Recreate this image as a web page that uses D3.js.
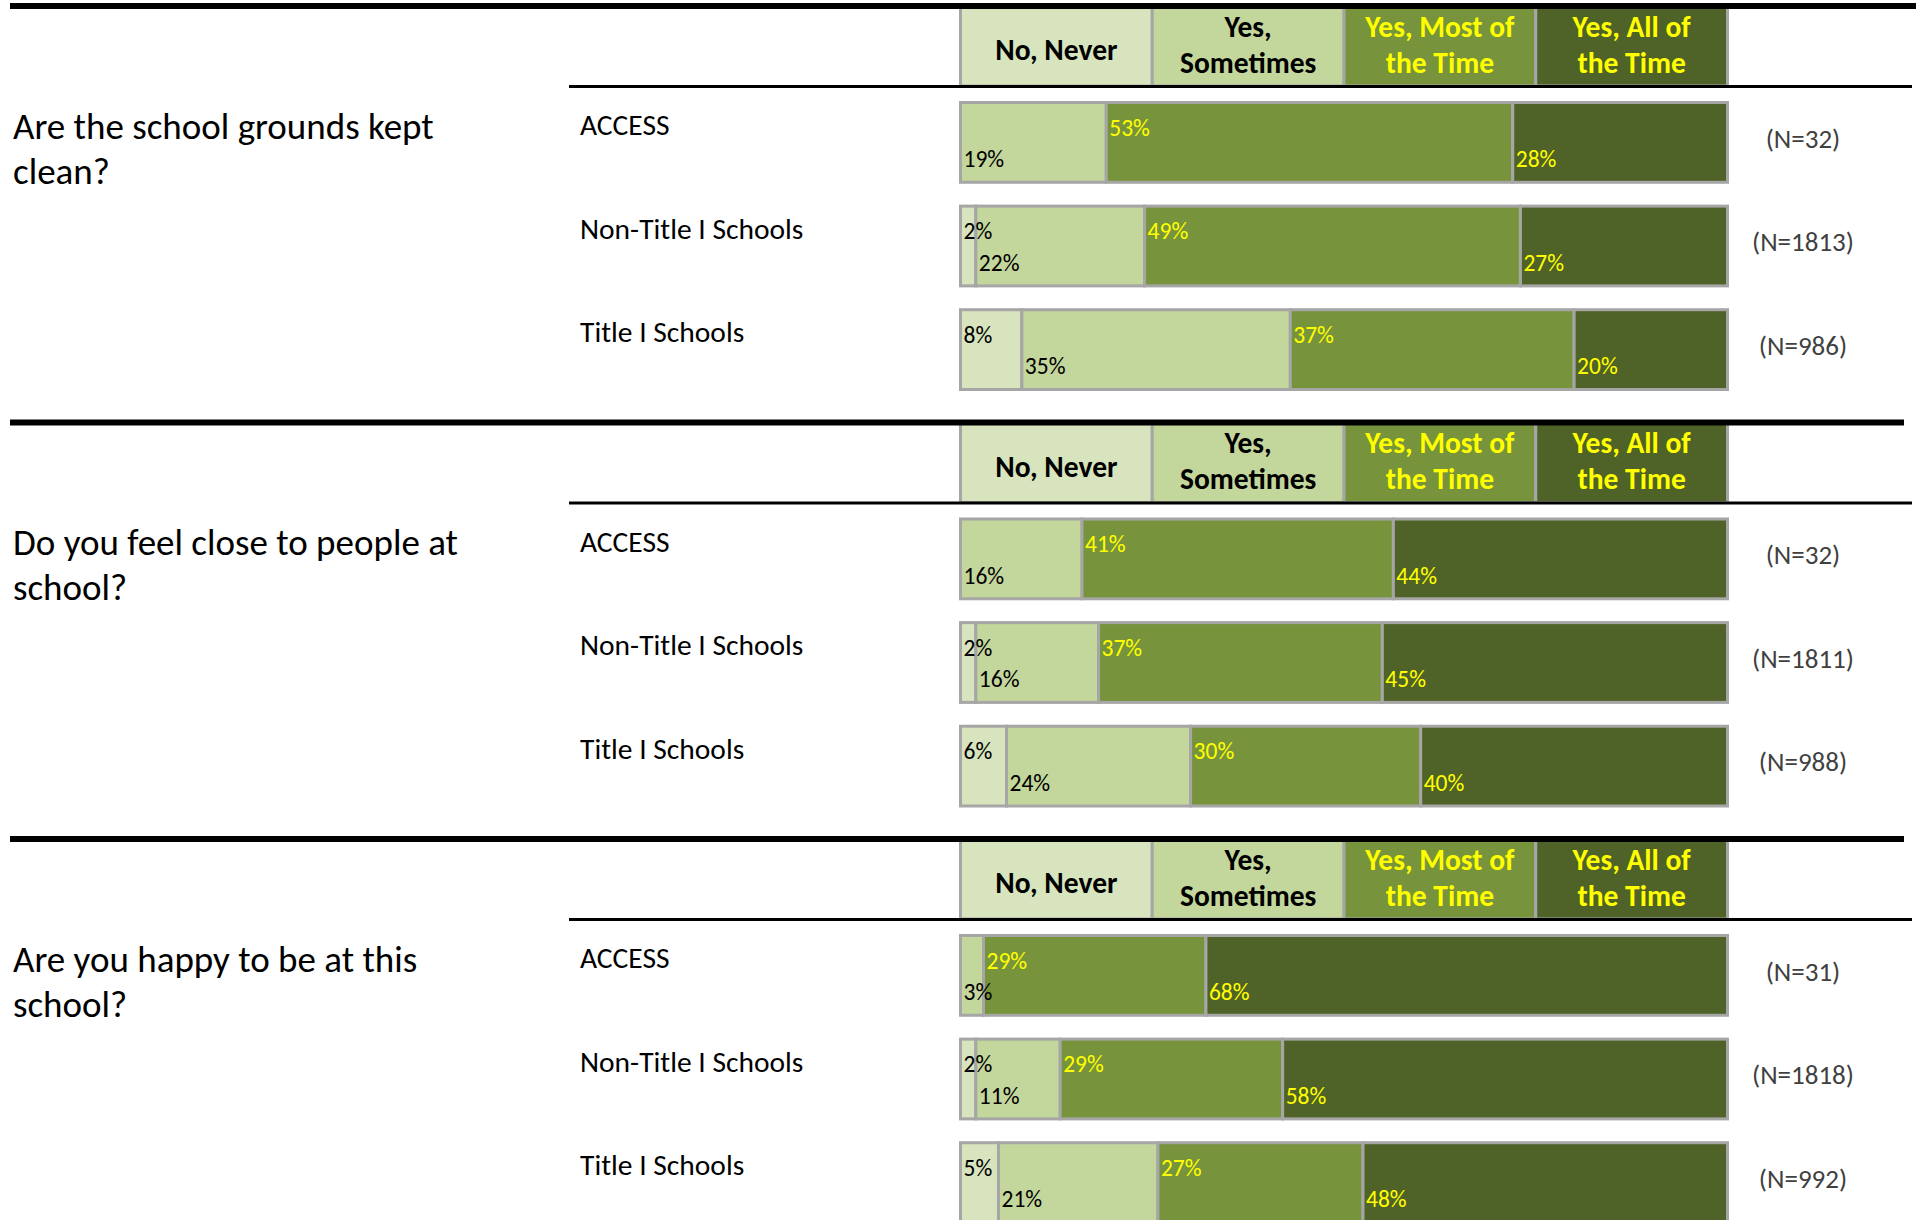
<!DOCTYPE html>
<html>
<head>
<meta charset="utf-8">
<script src="https://cdn.jsdelivr.net/npm/d3@7"></script>
<style>
  body { margin: 0; background: #fff; overflow: hidden; }
  text { font-family: Carlito, Calibri, Lato, sans-serif; }
</style>
</head>
<body>
<div id="chart"></div>
<script>
// Response categories and their header labels (split over lines)
const responses = ["No, Never", "Yes, Sometimes", "Yes, Most of the Time", "Yes, All of the Time"];
const headerLines = [["No, Never"], ["Yes,", "Sometimes"], ["Yes, Most of", "the Time"], ["Yes, All of", "the Time"]];
const groups = ["ACCESS", "Non-Title I Schools", "Title I Schools"];

// Questions (one per section)
const questions = [
  ["Are the school grounds kept", "clean?"],
  ["Do you feel close to people at", "school?"],
  ["Are you happy to be at this", "school?"]
];

// Percentages per group: [No Never, Sometimes, Most of the time, All of the time]
const cleanValues = [[0, 19, 53, 28], [2, 22, 49, 27], [8, 35, 37, 20]];
const closeValues = [[0, 16, 41, 44], [2, 16, 37, 45], [6, 24, 30, 40]];
const happyValues = [[0, 3, 29, 68], [2, 11, 29, 58], [5, 21, 27, 48]];

// Respondent counts
const cleanN = [32, 1813, 986];
const closeN = [32, 1811, 988];
const happyN = [31, 1818, 992];

const sections = [
  { q: questions[0], values: cleanValues, n: cleanN },
  { q: questions[1], values: closeValues, n: closeN },
  { q: questions[2], values: happyValues, n: happyN }
];

const width = 1916, height = 1220;
const fills = ["#D7E4BD", "#C3D69B", "#77933C", "#4F6228"];
const textFill = ["#000", "#000", "#FFFF00", "#FFFF00"];
const border = "#A6A6A6";

const svg = d3.select("#chart")
  .append("svg")
  .attr("width", width)
  .attr("height", height);

// section offsets
const sy = d3.scaleLinear().domain([0, 1]).range([0, 416.5]);

// header column positions
const hx = d3.scaleBand().domain(responses).range([960.5, 1727.5]);

// row positions inside a section
const y = d3.scaleBand().domain(groups).range([102.5, 389.5]).paddingInner(0.23);

sections.forEach((sec, si) => {
  const g = svg.append("g").attr("transform", `translate(0,${sy(si)})`);

  // header cells
  const hc = g.selectAll(".hcell").data(responses).enter().append("g");
  hc.append("rect")
    .attr("x", d => hx(d))
    .attr("y", 6)
    .attr("width", hx.bandwidth())
    .attr("height", 80)
    .attr("fill", (d, i) => fills[i])
    .attr("stroke", border)
    .attr("stroke-width", 3);
  hc.each(function (d, i) {
    const lines = headerLines[i];
    const base = lines.length === 1 ? [60] : [36.5, 72.5];
    d3.select(this).selectAll("text").data(lines).enter().append("text")
      .attr("x", hx(d) + hx.bandwidth() / 2)
      .attr("y", (l, j) => base[j])
      .attr("text-anchor", "middle")
      .attr("font-size", 29.5)
      .attr("font-weight", "bold")
      .attr("fill", textFill[i])
      .text(l => l);
  });

  // thick top rule
  g.append("line")
    .attr("x1", 10).attr("x2", si === 0 ? 1916 : 1904)
    .attr("y1", 6).attr("y2", 6)
    .attr("stroke", "#000").attr("stroke-width", 6);

  // rule under header
  g.append("line")
    .attr("x1", 569).attr("x2", 1912)
    .attr("y1", 86.5).attr("y2", 86.5)
    .attr("stroke", "#000").attr("stroke-width", 3);

  // question text
  g.append("text")
    .attr("font-size", 37)
    .attr("fill", "#000")
    .selectAll("tspan").data(sec.q).enter().append("tspan")
    .attr("x", 13)
    .attr("y", (d, j) => 138.5 + j * 45)
    .text(d => d);

  // rows
  groups.forEach((grp, gi) => {
    const vals = sec.values[gi];
    const total = d3.sum(vals);
    const x = d3.scaleLinear().domain([0, total]).range([960.5, 1727.5]);
    const stacked = [];
    let acc = 0;
    vals.forEach((v, k) => { stacked.push({ k, v, x0: acc, x1: acc + v }); acc += v; });
    const segs = stacked.filter(d => d.v > 0);
    const top = y(grp);

    g.append("text")
      .attr("x", 580)
      .attr("y", top + 32.5)
      .attr("font-size", 29.5)
      .attr("fill", "#000")
      .text(grp);

    const row = g.append("g");
    row.selectAll("rect").data(segs).enter().append("rect")
      .attr("x", d => x(d.x0))
      .attr("y", top)
      .attr("width", d => x(d.x1) - x(d.x0))
      .attr("height", y.bandwidth())
      .attr("fill", d => fills[d.k])
      .attr("stroke", border)
      .attr("stroke-width", 3);

    row.selectAll("text").data(segs).enter().append("text")
      .attr("x", d => x(d.x0) + 3)
      .attr("y", d => top + (d.k % 2 === 0 ? 33 : 64.5))
      .attr("font-size", 23.5)
      .attr("fill", d => textFill[d.k])
      .text(d => d.v + "%");

    g.append("text")
      .attr("x", 1803)
      .attr("y", top + 45)
      .attr("text-anchor", "middle")
      .attr("font-size", 27)
      .attr("fill", "#404040")
      .text(`(N=${sec.n[gi]})`);
  });
});
</script>
</body>
</html>
